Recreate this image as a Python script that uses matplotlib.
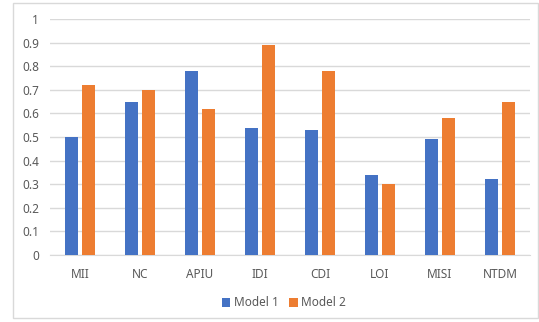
import matplotlib.pyplot as plt
import numpy as np
from matplotlib.patches import Rectangle

categories = ["MII", "NC", "APIU", "IDI", "CDI", "LOI", "MISI", "NTDM"]
model1 = [0.50, 0.65, 0.78, 0.54, 0.53, 0.34, 0.49, 0.32]
model2 = [0.72, 0.70, 0.62, 0.89, 0.78, 0.30, 0.58, 0.65]
yticks = [0, 0.1, 0.2, 0.3, 0.4, 0.5, 0.6, 0.7, 0.8, 0.9, 1]
ytick_labels = ["0", "0.1", "0.2", "0.3", "0.4", "0.5", "0.6", "0.7", "0.8", "0.9", "1"]

W, H = 539, 322
fig = plt.figure(figsize=(W / 100, H / 100), dpi=100)
plt.rcParams['font.family'] = ['Noto Sans', 'DejaVu Sans']

# light chart border
fig.patches.append(Rectangle((13 / W, 1 - 318 / H), 525 / W, 315 / H,
                             transform=fig.transFigure, fill=False,
                             edgecolor="#D9D9D9", linewidth=1))

ax = fig.add_axes([50 / W, 1 - 255 / H, 480 / W, 236 / H])
x = np.arange(len(categories))
bw = 0.22
ax.bar(x - 0.145, model1, bw, color="#4472C4", label="Model 1", zorder=3)
ax.bar(x + 0.145, model2, bw, color="#ED7D31", label="Model 2", zorder=3)

ax.set_xlim(-0.5, len(categories) - 0.5)
ax.set_ylim(0, 1)
ax.set_yticks(yticks)
ax.set_yticklabels(ytick_labels)
ax.set_xticks(x)
ax.set_xticklabels(categories)
ax.yaxis.grid(True, color="#D9D9D9", linewidth=1, zorder=0)
for s in ["top", "right", "left"]:
    ax.spines[s].set_visible(False)
ax.spines["bottom"].set_color("#D9D9D9")
ax.tick_params(axis="both", length=0, labelsize=8.5, colors="#595959")
ax.tick_params(axis="x", pad=9)
ax.tick_params(axis="y", pad=8)

fig.legend(loc="center", bbox_to_anchor=(284 / W, 1 - 303 / H), ncol=2,
           frameon=False, fontsize=8.5, labelcolor="#595959",
           handlelength=0.7, handleheight=0.7, handletextpad=0.3,
           columnspacing=0.9)

fig.savefig("out.png", dpi=100)
